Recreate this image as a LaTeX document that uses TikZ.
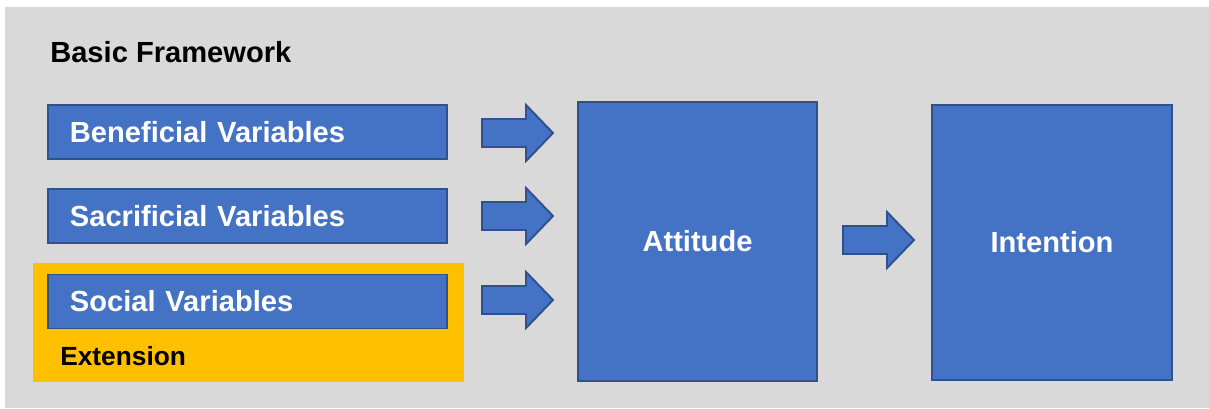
\documentclass[tikz,border=0pt]{standalone}
\usepackage{fontspec}
\setmainfont{Liberation Sans}
\usetikzlibrary{positioning}
\definecolor{boxblue}{HTML}{4472C4}
\definecolor{boxline}{HTML}{2F528F}
\definecolor{extorange}{HTML}{FFC000}
\definecolor{bggrey}{HTML}{D9D9D9}
\newcommand{\FatArrow}[1]{\draw[fatarrow, shift={(#1)}] (0,-14) -- (44,-14) -- (44,-28) -- (71,0) -- (44,28) -- (44,14) -- (0,14) -- cycle;}

\begin{document}
\begin{tikzpicture}[
                    x=0.025cm, y=-0.025cm,
                    lbl/.style={font=\fontsize{20.7}{24}\selectfont\bfseries},
                    varbox/.style={lbl, draw=boxline, fill=boxblue, text=white, line width=1.4pt,
                        text width=8.875cm, align=left, inner xsep=0.55cm, inner ysep=0pt,
                        minimum height=1.35cm},
                    bigbox/.style={lbl, draw=boxline, fill=boxblue, text=white, line width=1.4pt},
                    fatarrow/.style={draw=boxline, fill=boxblue, line width=1.4pt, line join=miter}]

                \useasboundingbox (0,0) rectangle (1209,408);
                \fill[bggrey] (5,7) rectangle (1209,408);

                \node[lbl, anchor=base west, inner sep=0pt] (title) at (50,62) {Basic Framework};

                % extension area
                \node[fill=extorange, minimum width=10.775cm, minimum height=2.975cm, inner sep=0pt] (ext) at (248.5,322.5) {};
                \node[font=\fontsize{18.7}{22}\selectfont\bfseries, anchor=base west, inner sep=0pt] (extlbl) at (60,365) {Extension};

                \node[varbox] (ben) at (247.5,132) {Beneficial Variables};
                \node[varbox] (sac) at (247.5,216) {Sacrificial Variables};
                \node[varbox] (soc) at (247.5,301.5) {Social Variables};

                \node[bigbox, minimum width=5.975cm, minimum height=6.975cm] (att) at (697.5,241.5) {Attitude};
                \node[bigbox, minimum width=6cm, minimum height=6.875cm] (int) at (1052,242.5) {Intention};

                \coordinate (a1) at (482,133);
                \coordinate (a2) at (482,216);
                \coordinate (a3) at (482,300);
                \coordinate (a4) at (843,240);
                \FatArrow{a1}
                \FatArrow{a2}
                \FatArrow{a3}
                \FatArrow{a4}

            \end{tikzpicture}
\end{document}
